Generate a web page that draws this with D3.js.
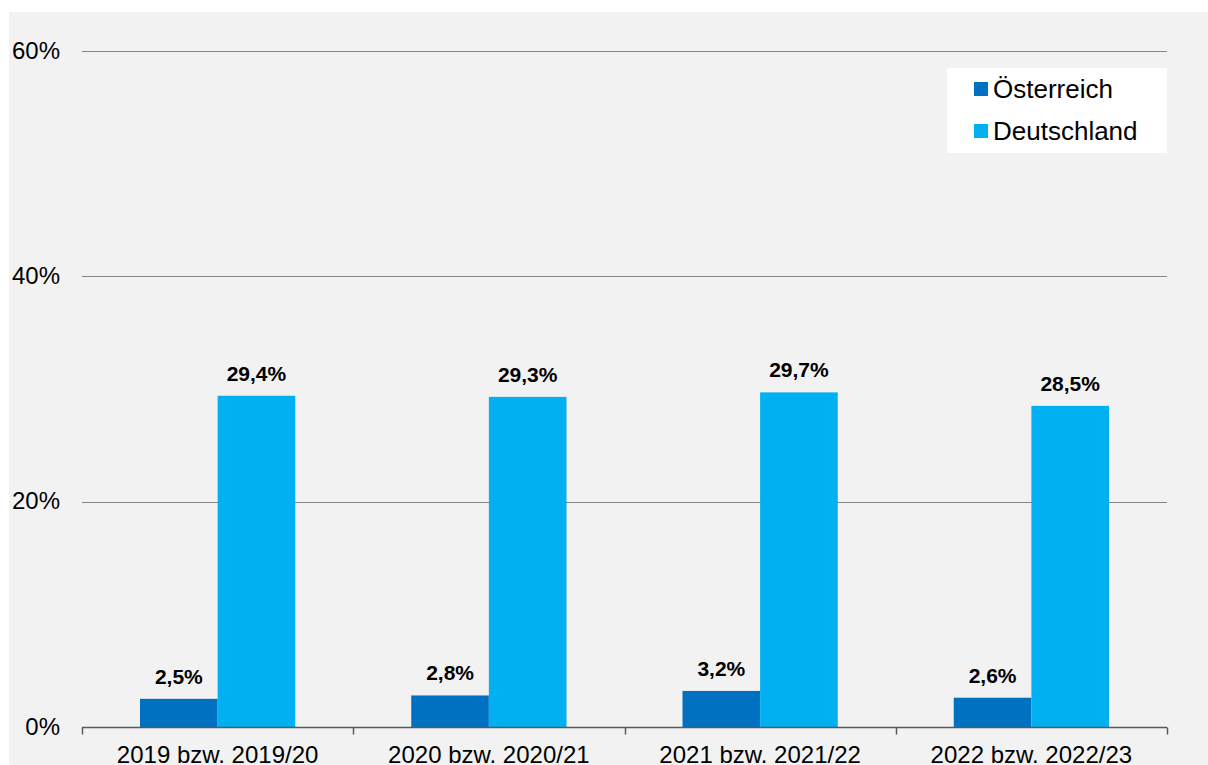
<!DOCTYPE html>
<html>
<head>
<meta charset="utf-8">
<script src="https://cdn.jsdelivr.net/npm/d3@7"></script>
<style>
  body { margin: 0; background: #fff; }
  svg { display: block; font-family: "Liberation Sans", Arial, sans-serif; }
</style>
</head>
<body>
<svg id="chart" width="1208" height="765"></svg>
<script>
var categories = ["2019 bzw. 2019/20", "2020 bzw. 2020/21", "2021 bzw. 2021/22", "2022 bzw. 2022/23"];
var seriesNames = ["Österreich", "Deutschland"];
var oesterreich = [2.5, 2.8, 3.2, 2.6];
var deutschland = [29.4, 29.3, 29.7, 28.5];
var yTicks = [0, 20, 40, 60];

var colors = ["#0070C0", "#00B0F0"];

var svg = d3.select("svg#chart");
var width = +svg.attr("width"),
    height = +svg.attr("height");

var margin = { left: 82, right: 41, top: 51, bottom: 38 };

// grey chart area
svg.append("rect")
    .attr("x", 9)
    .attr("y", 12)
    .attr("width", width - 9)
    .attr("height", height - 12)
    .attr("fill", "#F2F2F2");

// title above, mostly outside the picture
svg.append("text")
    .attr("x", 150)
    .attr("y", -4)
    .attr("fill", "#1F5FA8")
    .style("font-size", "20px")
    .text("Anteil der Nächtigungen (Veränderung)");

var x = d3.scaleBand()
    .domain(categories)
    .range([margin.left, width - margin.right])
    .paddingInner(0)
    .paddingOuter(0);

var xInner = d3.scaleBand()
    .domain(seriesNames)
    .range([58, x.bandwidth() - 58]);

var y = d3.scaleLinear()
    .domain([0, 60])
    .range([height - margin.bottom, margin.top]);

// gridlines
svg.append("g")
    .selectAll("line")
    .data(yTicks.filter(d => d > 0))
    .enter()
    .append("line")
    .attr("x1", margin.left)
    .attr("x2", width - margin.right)
    .attr("y1", d => Math.round(y(d)) + 0.5)
    .attr("y2", d => Math.round(y(d)) + 0.5)
    .attr("stroke", "#868686")
    .attr("stroke-width", 1);

// y labels
svg.append("g")
    .selectAll("text")
    .data(yTicks)
    .enter()
    .append("text")
    .attr("x", 60)
    .attr("y", d => y(d) + 7.5)
    .attr("text-anchor", "end")
    .style("font-size", "24px")
    .attr("fill", "#000")
    .text(d => d + "%");

// bars
var data = categories.map((c, i) => ({
    category: c,
    values: [
        { name: seriesNames[0], value: oesterreich[i] },
        { name: seriesNames[1], value: deutschland[i] }
    ]
}));

var groups = svg.selectAll("g.group")
    .data(data)
    .enter()
    .append("g")
    .attr("class", "group")
    .attr("transform", d => "translate(" + x(d.category) + ",0)");

groups.selectAll("rect")
    .data(d => d.values)
    .enter()
    .append("rect")
    .attr("x", d => xInner(d.name))
    .attr("width", xInner.bandwidth())
    .attr("y", d => y(d.value))
    .attr("height", d => y(0) - y(d.value))
    .attr("fill", (d, i) => colors[i]);

groups.selectAll("text.val")
    .data(d => d.values)
    .enter()
    .append("text")
    .attr("class", "val")
    .attr("x", d => xInner(d.name) + xInner.bandwidth() / 2)
    .attr("y", d => y(d.value) - 15)
    .attr("text-anchor", "middle")
    .style("font-size", "21px")
    .style("font-weight", "bold")
    .attr("fill", "#000")
    .text(d => d3.format(".1f")(d.value).replace(".", ",") + "%");

// x axis
var axis = svg.append("g")
    .attr("transform", "translate(0," + (Math.round(y(0)) + 0.5) + ")");

axis.append("line")
    .attr("x1", margin.left)
    .attr("x2", width - margin.right)
    .attr("stroke", "#595959")
    .attr("stroke-width", 1.5);

var boundaries = categories.map(c => x(c)).concat([width - margin.right]);
axis.selectAll("line.tick")
    .data(boundaries)
    .enter()
    .append("line")
    .attr("class", "tick")
    .attr("x1", d => Math.round(d) + 0.5)
    .attr("x2", d => Math.round(d) + 0.5)
    .attr("y1", 0)
    .attr("y2", 7)
    .attr("stroke", "#595959")
    .attr("stroke-width", 1.5);

axis.selectAll("text")
    .data(categories)
    .enter()
    .append("text")
    .attr("x", d => x(d) + x.bandwidth() / 2)
    .attr("y", 35)
    .attr("text-anchor", "middle")
    .style("font-size", "24px")
    .attr("fill", "#000")
    .text(d => d);

// legend
var legend = svg.append("g")
    .attr("transform", "translate(947,68)");

legend.append("rect")
    .attr("width", 220)
    .attr("height", 85)
    .attr("fill", "#fff");

var items = legend.selectAll("g.item")
    .data(seriesNames)
    .enter()
    .append("g")
    .attr("class", "item")
    .attr("transform", (d, i) => "translate(27," + (14 + i * 42) + ")");

items.append("rect")
    .attr("width", 14)
    .attr("height", 14)
    .attr("fill", (d, i) => colors[i]);

items.append("text")
    .attr("x", 19)
    .attr("y", 16)
    .style("font-size", "26px")
    .attr("fill", "#000")
    .text(d => d);
</script>
</body>
</html>
